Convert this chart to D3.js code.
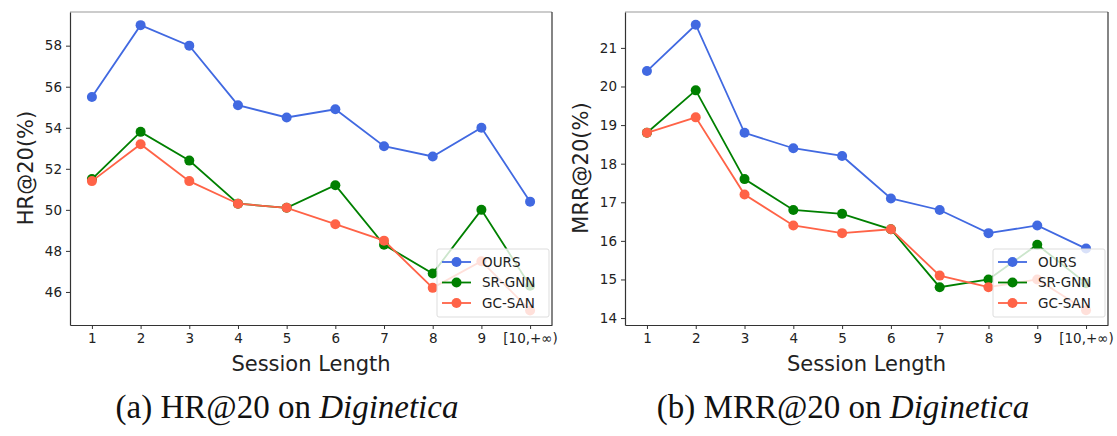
<!DOCTYPE html>
<html lang="en">
<head>
<meta charset="UTF-8">
<title>Session Length - Diginetica</title>
<script src="https://cdn.jsdelivr.net/npm/d3@7"></script>
<style>
  body { margin: 0; background: #fff; }
  svg { display: block; }
</style>
</head>
<body>
<div id="chart"></div>
<script>
  // categories on the x axis
  const sessionLengths = ["1", "2", "3", "4", "5", "6", "7", "8", "9", "[10,+\u221e)"];
  const seriesNames = ["OURS", "SR-GNN", "GC-SAN"];

  // HR@20 (%) values
  const hrOurs  = [55.5, 59.0, 58.0, 55.1, 54.5, 54.9, 53.1, 52.6, 54.0, 50.4];
  const hrSrgnn = [51.5, 53.8, 52.4, 50.3, 50.1, 51.2, 48.3, 46.9, 50.0, 46.3];
  const hrGcsan = [51.4, 53.2, 51.4, 50.3, 50.1, 49.3, 48.5, 46.2, 47.5, 45.1];
  const hrTicks = [46, 48, 50, 52, 54, 56, 58];

  // MRR@20 (%) values
  const mrrOurs  = [20.4, 21.6, 18.8, 18.4, 18.2, 17.1, 16.8, 16.2, 16.4, 15.8];
  const mrrSrgnn = [18.8, 19.9, 17.6, 16.8, 16.7, 16.3, 14.8, 15.0, 15.9, 14.9];
  const mrrGcsan = [18.8, 19.2, 17.2, 16.4, 16.2, 16.3, 15.1, 14.8, 15.0, 14.2];
  const mrrTicks = [14, 15, 16, 17, 18, 19, 20, 21];

  const colors = ["#4169e1", "#008000", "#ff6347"];

  const width = 1117, height = 436;
  const svg = d3.select("#chart").append("svg")
      .attr("width", width)
      .attr("height", height)
      .style("font-family", "'DejaVu Sans', sans-serif");

  function styleAxis(ax) {
    ax.attr("font-family", "'DejaVu Sans', sans-serif").attr("font-size", 13.5);
    ax.selectAll(".tick text").style("font-size", "13.5px").attr("fill", "#222");
    ax.select(".domain").attr("stroke", "#333").attr("stroke-width", 1.2);
    ax.selectAll(".tick line").attr("stroke", "#333");
  }

  function panel(opt) {
    const left = opt.left, right = opt.right, top = 12, bottom = 325;

    // matplotlib style 5% padding around the category positions
    const x = d3.scaleLinear()
        .domain([-0.45, sessionLengths.length - 1 + 0.45])
        .range([left, right]);
    const y = d3.scaleLinear().domain(opt.yDomain).range([bottom, top]);

    const g = svg.append("g");

    // frame
    g.append("line").attr("x1", left).attr("x2", right).attr("y1", top).attr("y2", top)
        .attr("stroke", "#999").attr("stroke-width", 1.2);
    g.append("line").attr("x1", right).attr("x2", right).attr("y1", top).attr("y2", bottom)
        .attr("stroke", "#333").attr("stroke-width", 1.2);

    const xAxis = g.append("g")
        .attr("transform", `translate(0,${bottom})`)
        .call(d3.axisBottom(x)
            .tickValues(d3.range(sessionLengths.length))
            .tickFormat(i => sessionLengths[i])
            .tickSizeInner(4).tickSizeOuter(0).tickPadding(4));
    styleAxis(xAxis);

    const yAxis = g.append("g")
        .attr("transform", `translate(${left},0)`)
        .call(d3.axisLeft(y).tickValues(opt.ticks)
            .tickSizeInner(4).tickSizeOuter(0).tickPadding(4));
    styleAxis(yAxis);

    // axis titles
    g.append("text")
        .attr("x", (left + right) / 2).attr("y", 371)
        .attr("text-anchor", "middle")
        .attr("font-size", 21).attr("fill", "#222")
        .text("Session Length");
    g.append("text")
        .attr("transform", `translate(${opt.yLabelX},168) rotate(-90)`)
        .attr("text-anchor", "middle")
        .attr("font-size", 21).attr("fill", "#222")
        .text(opt.yLabel);

    // lines and markers
    const line = d3.line().x((d, i) => x(i)).y(d => y(d));
    opt.series.forEach((vals, k) => {
      g.append("path")
          .datum(vals)
          .attr("fill", "none")
          .attr("stroke", colors[k])
          .attr("stroke-width", 1.8)
          .attr("d", line);
      g.append("g").selectAll("circle")
          .data(vals)
          .join("circle")
          .attr("cx", (d, i) => x(i))
          .attr("cy", d => y(d))
          .attr("r", 5)
          .attr("fill", colors[k]);
    });

    // legend, lower right
    const lx = right - 115, ly = 249;
    const lg = g.append("g").attr("transform", `translate(${lx},${ly})`);
    lg.append("rect")
        .attr("width", 112).attr("height", 68)
        .attr("rx", 2)
        .attr("fill", "#fff").attr("fill-opacity", 0.8)
        .attr("stroke", "#ddd");
    seriesNames.forEach((name, k) => {
      const ry = 13 + k * 20.5;
      lg.append("line").attr("x1", 5).attr("x2", 34).attr("y1", ry).attr("y2", ry)
          .attr("stroke", colors[k]).attr("stroke-width", 1.8);
      lg.append("circle").attr("cx", 19.5).attr("cy", ry).attr("r", 5).attr("fill", colors[k]);
      lg.append("text").attr("x", 45).attr("y", ry).attr("dy", "0.35em")
          .attr("font-size", 13.5).attr("fill", "#222").text(name);
    });

    // caption below the panel
    const cap = svg.append("text")
        .attr("x", opt.captionX).attr("y", 418)
        .attr("text-anchor", "middle")
        .attr("font-family", "'Liberation Serif', serif")
        .attr("font-size", 33).attr("fill", "#111");
    cap.append("tspan").text(opt.caption + " on ");
    cap.append("tspan").attr("font-style", "italic").text("Diginetica");
  }

  panel({
    left: 70, right: 552,
    yDomain: [44.39, 59.64], ticks: hrTicks,
    yLabel: "HR@20(%)", yLabelX: 33,
    series: [hrOurs, hrSrgnn, hrGcsan],
    caption: "(a) HR@20", captionX: 287
  });

  panel({
    left: 625, right: 1108,
    yDomain: [13.82, 21.93], ticks: mrrTicks,
    yLabel: "MRR@20(%)", yLabelX: 588,
    series: [mrrOurs, mrrSrgnn, mrrGcsan],
    caption: "(b) MRR@20", captionX: 843
  });
</script>
</body>
</html>
